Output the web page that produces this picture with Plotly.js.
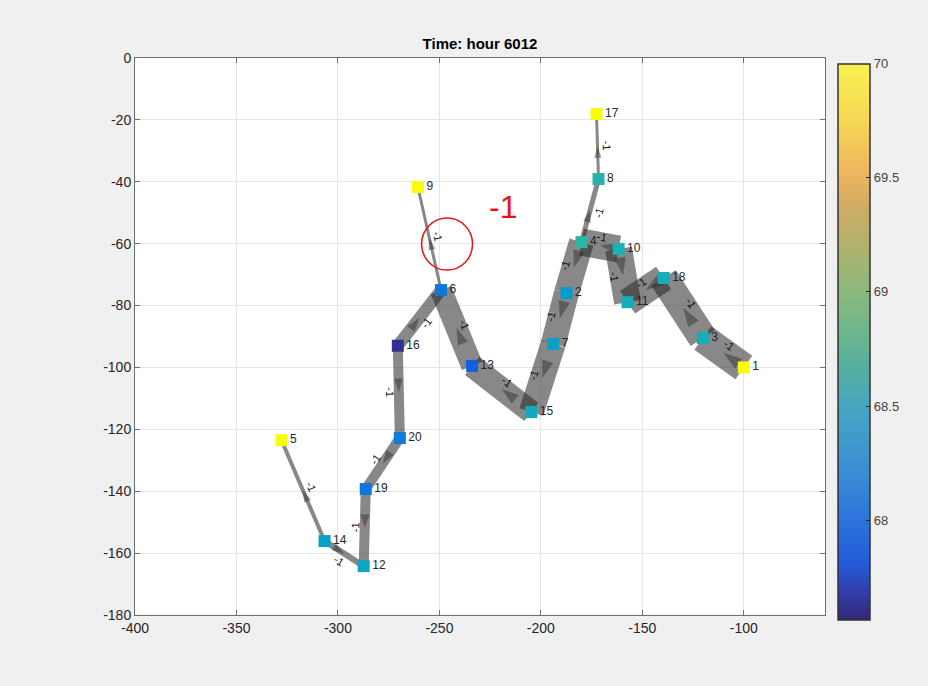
<!DOCTYPE html>
<html><head><meta charset="utf-8">
<script src="https://cdn.plot.ly/plotly-3.0.1.min.js"></script>
<style>html,body{margin:0;padding:0;background:#f0f0f0}</style>
</head><body><div id="chart" style="width:928px;height:686px"></div>
<script>
// ---- data ----
const nodeIds = [1,2,3,4,5,6,7,8,9,10,11,12,13,14,15,16,17,18,19,20];
const nodeX = [-100,-187.4,-120.2,-180,-327.8,-249.2,-193.9,-171.6,-260.6,-161.7,-157.3,-287.3,-233.9,-306.6,-204.7,-270.5,-172.6,-139.5,-286.3,-269.5];
const nodeY = [-100,-76,-90.5,-59.5,-123.5,-75,-92.4,-39.1,-41.7,-61.7,-78.9,-164.2,-99.5,-156.1,-114.4,-93,-18.1,-71.1,-139.3,-122.8];
const nodeVal = [70,68.3,68.5,68.62,70,68.0,68.35,68.6,70,68.55,68.48,68.4,67.85,68.35,68.45,67.6,70,68.52,68.0,68.05];
const edgeSrc = [6,8,4,16,16,20,19,14,14,13,15,7,2,4,10,10,18,3,1];
const edgeTgt = [9,17,8,6,20,19,12,12,5,6,13,15,7,2,4,11,11,18,3];
const edgeWeight = [3,3,5,12,10,10,10,6,4,22,23,25,25,25,27,27,27,29,29];
const edgeLabels = ['-1','-1','-1','-1','-1','-1','-1','-1','-1','-1','-1','-1','-1','-1','-1','-1','-1','-1','-1'];
const xTicks = [-400,-350,-300,-250,-200,-150,-100];
const yTicks = [0,-20,-40,-60,-80,-100,-120,-140,-160,-180];
const cbTicks = [68,68.5,69,69.5,70];
const titleText = 'Time: hour 6012';
const noteText = '-1';

// ---- layout geometry ----
const W = 928, H = 686;
const M = {l:135, r:103, t:58, b:71, autoexpand:false};
const xRange = [-400, -60], yRange = [-180, 0];
const sx = (W - M.l - M.r) / (xRange[1] - xRange[0]);
const sy = (H - M.t - M.b) / (yRange[1] - yRange[0]);
const FONT = 'Liberation Sans, Arial, sans-serif';
const CMIN = 67.566, CMAX = 70;

const parula = [
 [0,'rgb(53,42,135)'],[0.1,'rgb(15,92,221)'],[0.2,'rgb(18,125,216)'],
 [0.3,'rgb(7,156,207)'],[0.4,'rgb(21,177,180)'],[0.5,'rgb(89,189,140)'],
 [0.6,'rgb(165,190,107)'],[0.7,'rgb(225,185,82)'],[0.8,'rgb(252,206,46)'],
 [0.9,'rgb(245,227,32)'],[1,'rgb(249,251,14)']
];
// softer rendition as it appears on the colour bar of the reference
const parulaBar = [
 [0,'rgb(50,40,120)'],[0.05,'rgb(50,60,170)'],[0.1,'rgb(35,90,215)'],[0.18,'rgb(45,115,220)'],
 [0.28,'rgb(60,145,208)'],[0.38,'rgb(70,165,195)'],[0.45,'rgb(85,175,160)'],[0.52,'rgb(110,182,140)'],
 [0.59,'rgb(140,185,125)'],[0.67,'rgb(175,178,110)'],[0.74,'rgb(205,172,100)'],[0.8,'rgb(238,180,95)'],
 [0.9,'rgb(245,215,85)'],[1,'rgb(250,242,80)']
];

const traces = [];
const annotations = [];
for (let i = 0; i < edgeSrc.length; i++) {
  const s = edgeSrc[i]-1, t = edgeTgt[i]-1;
  const xs = nodeX[s], ys = nodeY[s], xt = nodeX[t], yt = nodeY[t];
  const xm = (xs+xt)/2, ym = (ys+yt)/2;
  const w = edgeWeight[i];
  traces.push({
    type:'scatter', mode:'lines+markers', x:[xs,xm,xt], y:[ys,ym,yt],
    line:{color:'rgba(38,38,38,0.55)', width:w},
    marker:{symbol:'arrow', size:[0, 11 + w*0.3, 0], angleref:'previous',
            color:'rgba(25,25,25,0.55)', line:{width:0}},
    hoverinfo:'skip', showlegend:false
  });
  const dxp = (xt-xs)*sx, dyp = -(yt-ys)*sy;
  const len = Math.hypot(dxp, dyp);
  let ang = Math.atan2(dyp, dxp)*180/Math.PI;
  if (ang > 90) ang -= 180;
  if (ang < -90) ang += 180;
  const nx = -dyp/len, ny = dxp/len;
  const off = 9;
  annotations.push({
    x: xm, y: ym, xref:'x', yref:'y', text: edgeLabels[i], showarrow:false,
    textangle: ang, xshift: nx*off, yshift: -ny*off,
    font:{family:FONT, size:11, color:'#111'}
  });
}

// nodes
traces.push({
  type:'scatter', mode:'markers+text', x:nodeX, y:nodeY,
  text: nodeIds.map(String), textposition:'middle right',
  textfont:{family:FONT, size:12, color:'#262626'},
  marker:{symbol:'square', size:12, color:nodeVal, colorscale:parula,
          cmin:CMIN, cmax:CMAX, line:{width:0}, showscale:false},
  hoverinfo:'skip', showlegend:false
});
// colour bar for the same node values
traces.push({
  type:'scatter', mode:'markers', x:nodeX, y:nodeY,
  marker:{size:12, opacity:0, color:nodeVal, colorscale:parulaBar, cmin:CMIN, cmax:CMAX,
          showscale:true,
          colorbar:{x:(838-M.l)/(W-M.l-M.r), xanchor:'left', xref:'paper', xpad:0, ypad:0,
                    thickness:32, lenmode:'pixels', len:556, y:(H-M.b-341.5)/(H-M.t-M.b), yanchor:'middle',
                    outlinecolor:'#333', outlinewidth:1.5,
                    tickvals:cbTicks, ticktext:cbTicks.map(String), ticks:'inside', ticklen:4,
                    tickcolor:'#222',
                    tickfont:{family:FONT, size:13, color:'#444'}}},
  hoverinfo:'skip', showlegend:false
});

// red note, anchored at the midpoint of edge 6 -> 9
const k = edgeSrc.findIndex((v,i)=> v===6 && edgeTgt[i]===9);
const mx = (nodeX[edgeSrc[k]-1]+nodeX[edgeTgt[k]-1])/2;
const my = (nodeY[edgeSrc[k]-1]+nodeY[edgeTgt[k]-1])/2;
const shapes = [{
  type:'circle', xref:'x', yref:'y', xsizemode:'pixel', ysizemode:'pixel',
  xanchor:mx, yanchor:my, x0:17.6-25.5, x1:17.6+25.5, y0:-5.5-26, y1:-5.5+26,
  line:{color:'rgb(235,20,20)', width:1.5}
}];
annotations.push({
  x:mx, y:my, xref:'x', yref:'y', text:noteText, showarrow:false,
  xshift:74, yshift:31.5, font:{family:FONT, size:32, color:'rgb(235,20,20)'}
});

const axisCommon = {
  showgrid:true, gridcolor:'#e6e6e6', gridwidth:1, zeroline:false,
  showline:true, linecolor:'#6e6e6e', linewidth:1, mirror:'ticks',
  ticks:'inside', ticklen:5, tickcolor:'#6e6e6e',
  tickfont:{family:FONT, size:14, color:'#262626'}
};

const layout = {
  width:W, height:H, margin:M,
  paper_bgcolor:'#f0f0f0', plot_bgcolor:'#ffffff',
  title:{text:'<b>'+titleText+'</b>', x:0.5, xref:'paper', y:1-44/H, yref:'container',
         yanchor:'middle', xanchor:'center', font:{family:FONT, size:15, color:'#000'}},
  xaxis:Object.assign({range:xRange, tickvals:xTicks, ticktext:xTicks.map(String)}, axisCommon),
  yaxis:Object.assign({range:yRange, tickvals:yTicks, ticktext:yTicks.map(String)}, axisCommon),
  annotations:annotations, shapes:shapes, showlegend:false
};

Plotly.newPlot('chart', traces, layout, {displayModeBar:false, staticPlot:true});
</script>
</body></html>
